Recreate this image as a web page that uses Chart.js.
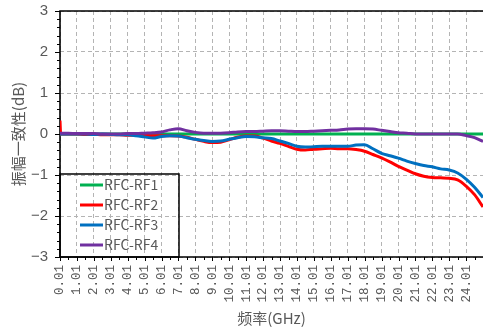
<!DOCTYPE html>
<html>
<head>
<meta charset="utf-8">
<script src="https://cdn.jsdelivr.net/npm/chart.js@4/dist/chart.umd.min.js"></script>
<style>
  html, body { margin: 0; padding: 0; background: #fff; }
  #wrap { width: 483px; height: 329px; }
</style>
</head>
<body>
<div id="wrap"><canvas id="c" width="483" height="329"></canvas></div>
<script>
// Frequency points (GHz)
const freqGHz = [0.01, 0.05, 0.5, 1, 1.5, 2, 2.5, 3, 3.5, 4, 4.5, 5, 5.5, 6, 6.5, 7, 7.5, 8, 8.5, 9, 9.5,
  10, 10.5, 11, 11.5, 12, 12.5, 13, 13.5, 14, 14.5, 15, 15.5, 16, 16.5, 17, 17.5, 18, 18.5, 19, 19.5,
  20, 20.5, 21, 21.5, 22, 22.5, 23, 23.5, 24, 24.5, 25];

// Amplitude consistency (dB) for each channel
const rfcRf1 = [0, 0, 0, 0, 0, 0, 0, 0, 0, 0, 0, 0, 0, 0, 0, 0, 0, 0, 0, 0, 0,
  0, 0, 0, 0, 0, 0, 0, 0, 0, 0, 0, 0, 0, 0, 0, 0, 0, 0, 0, 0,
  0, 0, 0, 0, 0, 0, 0, 0, 0, 0, 0];
const rfcRf2 = [0.33, 0.0, 0.0, 0.0, -0.01, -0.01, -0.02, -0.02, -0.02, -0.03, -0.03, -0.03, -0.04, -0.04, -0.04, -0.05, -0.08, -0.13, -0.18, -0.21, -0.2,
  -0.14, -0.08, -0.05, -0.05, -0.1, -0.17, -0.23, -0.3, -0.37, -0.39, -0.37, -0.36, -0.35, -0.36, -0.36, -0.38, -0.42, -0.5, -0.58, -0.68,
  -0.79, -0.88, -0.97, -1.03, -1.06, -1.07, -1.08, -1.12, -1.27, -1.48, -1.78];
const rfcRf3 = [0.0, 0.0, 0.0, 0.0, 0.0, -0.01, 0.0, -0.01, -0.02, -0.02, -0.04, -0.07, -0.1, -0.06, -0.04, -0.05, -0.09, -0.13, -0.16, -0.18, -0.17,
  -0.13, -0.09, -0.06, -0.07, -0.09, -0.11, -0.17, -0.23, -0.3, -0.32, -0.31, -0.3, -0.3, -0.3, -0.3, -0.27, -0.26, -0.36, -0.47, -0.53,
  -0.59, -0.66, -0.72, -0.77, -0.8, -0.85, -0.88, -0.95, -1.1, -1.3, -1.55];
const rfcRf4 = [0.02, 0.02, 0.02, 0.01, 0.01, 0.01, 0.0, 0.0, 0.0, 0.01, 0.01, 0.02, 0.03, 0.05, 0.1, 0.13, 0.08, 0.04, 0.02, 0.02, 0.02,
  0.03, 0.05, 0.06, 0.06, 0.07, 0.08, 0.08, 0.07, 0.06, 0.06, 0.07, 0.08, 0.09, 0.1, 0.12, 0.13, 0.13, 0.12, 0.09, 0.06,
  0.03, 0.02, 0.0, 0.0, 0.0, 0.0, 0.0, 0.0, -0.04, -0.09, -0.18];

// Axis ticks
const xTickValues = [0.01, 1.01, 2.01, 3.01, 4.01, 5.01, 6.01, 7.01, 8.01, 9.01, 10.01, 11.01, 12.01,
  13.01, 14.01, 15.01, 16.01, 17.01, 18.01, 19.01, 20.01, 21.01, 22.01, 23.01, 24.01];
const xTickLabels = ['0.01', '1.01', '2.01', '3.01', '4.01', '5.01', '6.01', '7.01', '8.01', '9.01', '10.01', '11.01', '12.01',
  '13.01', '14.01', '15.01', '16.01', '17.01', '18.01', '19.01', '20.01', '21.01', '22.01', '23.01', '24.01'];
const yTickValues = [-3, -2, -1, 0, 1, 2, 3];
const yTickLabels = ['\u22123', '\u22122', '\u22121', '0', '1', '2', '3'];

const seriesNames = ['RFC-RF1', 'RFC-RF2', 'RFC-RF3', 'RFC-RF4'];
const seriesColors = ['#00b050', '#ff0000', '#0070c0', '#7030a0'];
const seriesValues = [rfcRf1, rfcRf2, rfcRf3, rfcRf4];

const textGray = '#595959';
const gridGray = '#b4b4b4';

// Axis frame with major / minor tick marks
const frameTicks = {
  id: 'frameTicks',
  beforeDatasetsDraw(chart) {
    const { ctx, chartArea: a, scales: { x, y } } = chart;
    ctx.save();
    ctx.strokeStyle = '#000';
    ctx.lineWidth = 1;
    ctx.beginPath();
    for (let k = 0; k <= 30; k++) {
      const v = -3 + k * 0.2;
      const py = Math.round(y.getPixelForValue(v)) + 0.5;
      const len = (k % 5 === 0) ? 5 : 3;
      ctx.moveTo(a.left - len, py);
      ctx.lineTo(a.left, py);
    }
    for (let k = 0; k <= 49; k++) {
      const v = 0.01 + k * 0.5;
      const px = Math.round(x.getPixelForValue(v)) + 0.5;
      const len = (k % 2 === 0) ? 4 : 3;
      ctx.moveTo(px, a.bottom);
      ctx.lineTo(px, a.bottom + len);
    }
    ctx.stroke();
    ctx.lineWidth = 1.6;
    ctx.beginPath();
    ctx.moveTo(a.right, a.top);
    ctx.lineTo(a.left, a.top);
    ctx.lineTo(a.left, a.bottom);
    ctx.lineTo(a.right, a.bottom);
    ctx.stroke();
    ctx.restore();
  }
};

// Boxed legend in the lower-left corner of the plot
const boxLegend = {
  id: 'boxLegend',
  afterDraw(chart) {
    const { ctx, chartArea: a } = chart;
    const w = 119, h = 83;
    const left = a.left, top = a.bottom - h;
    ctx.save();
    ctx.strokeStyle = '#000';
    ctx.lineWidth = 1.5;
    ctx.strokeRect(left, top, w, h);
    ctx.font = '14px "Noto Sans CJK SC", "Liberation Sans", sans-serif';
    ctx.textBaseline = 'middle';
    ctx.fillStyle = textGray;
    seriesNames.forEach((name, i) => {
      const cy = top + 11 + i * 20;
      ctx.strokeStyle = seriesColors[i];
      ctx.lineWidth = 3;
      ctx.beginPath();
      ctx.moveTo(left + 20, cy);
      ctx.lineTo(left + 43, cy);
      ctx.stroke();
      ctx.fillText(name, left + 44, cy);
    });
    ctx.restore();
  }
};

const datasets = seriesNames.map((name, i) => ({
  label: name,
  data: freqGHz.map((f, j) => ({ x: f, y: seriesValues[i][j] })),
  borderColor: seriesColors[i],
  backgroundColor: seriesColors[i],
  borderWidth: 3,
  pointRadius: 0,
  tension: 0.3,
  cubicInterpolationMode: 'monotone',
  order: 4 - i
}));

new Chart(document.getElementById('c'), {
  type: 'line',
  data: { datasets },
  options: {
    responsive: false,
    animation: false,
    devicePixelRatio: 1,
    layout: { padding: { top: 11, right: 0, left: 0, bottom: 0 } },
    plugins: { legend: { display: false }, tooltip: { enabled: false } },
    scales: {
      x: {
        type: 'linear',
        min: 0.01,
        max: 25,
        afterBuildTicks: s => { s.ticks = xTickValues.map(v => ({ value: v })); },
        afterFit: s => { s.height = 72; s.paddingLeft = 0; s.paddingRight = 0; },
        ticks: {
          autoSkip: false,
          minRotation: 90,
          maxRotation: 90,
          padding: 8,
          color: textGray,
          font: { family: '"Liberation Mono", monospace', size: 12.5 },
          callback: (v, i) => xTickLabels[i]
        },
        grid: { color: gridGray, lineWidth: 1, drawTicks: false },
        border: { display: false, dash: [4, 3] },
        title: {
          display: true,
          text: '频率(GHz)',
          color: textGray,
          font: { family: '"Noto Sans CJK SC", sans-serif', size: 15 },
          padding: { top: 0, bottom: 2 }
        }
      },
      y: {
        type: 'linear',
        min: -3,
        max: 3,
        afterBuildTicks: s => { s.ticks = yTickValues.map(v => ({ value: v })); },
        afterFit: s => { s.width = 60; s.paddingTop = 0; s.paddingBottom = 0; },
        ticks: {
          padding: 12,
          color: textGray,
          font: { family: '"Liberation Sans", sans-serif', size: 15 },
          callback: (v, i) => yTickLabels[i]
        },
        grid: { color: gridGray, lineWidth: 1, drawTicks: false },
        border: { display: false, dash: [4, 3] },
        title: {
          display: true,
          text: '振幅一致性(dB)',
          color: textGray,
          font: { family: '"Noto Sans CJK SC", sans-serif', size: 15 },
          padding: { top: 9, bottom: 0 }
        }
      }
    }
  },
  plugins: [frameTicks, boxLegend]
});
</script>
</body>
</html>
